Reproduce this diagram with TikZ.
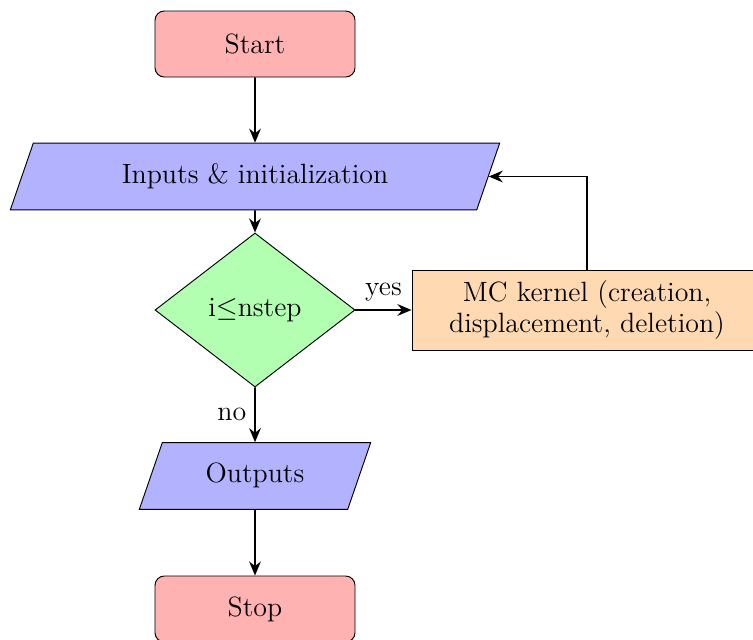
\documentclass[tikz,border=0pt]{standalone}
\usetikzlibrary{shapes.geometric,arrows.meta}
\begin{document}
\begin{tikzpicture}[x=0.015cm,y=-0.015cm,
  font=\fontsize{11.9}{14}\selectfont,
  startstop/.style={rectangle, rounded corners=4pt, draw=black, fill=red!30, minimum width=3cm, minimum height=0.99cm, inner sep=0pt},
  iobox/.style={trapezium, trapezium left angle=71, trapezium right angle=109, trapezium stretches body, draw=black, fill=blue!30, text height=0.3cm, text depth=0.1cm, inner ysep=0.3cm, inner xsep=0pt},
  decisionbox/.style={diamond, draw=black, fill=green!30, minimum width=3cm, minimum height=2.31cm, inner sep=0pt},
  processbox/.style={rectangle, draw=black, fill=orange!30, minimum width=5.25cm, minimum height=1.2cm, text width=5cm, align=center, inner sep=0pt},
  conn/.style={thick, -{Stealth[length=6pt,width=5pt,inset=2pt]}}]
\useasboundingbox (0,0) rectangle (753,639);
\node[startstop] (start) at (255,44) {Start};
\node[iobox, minimum width=7.34cm] (in) at (255,176.5) {Inputs \& initialization};
\node[decisionbox] (dec) at (255,310) {i$\leq$nstep};
\node[processbox] (mc) at (587,310) {MC kernel (creation,\\[-1pt] displacement, deletion)};
\node[iobox, minimum width=3.47cm] (out) at (255,476) {Outputs};
\node[startstop] (stop) at (255,609) {Stop};
\coordinate (corner) at (mc.north |- in.east);
\draw[conn] (start) -- (in);
\draw[conn] (in) -- (dec);
\draw[conn] (dec) -- node[above] {yes} (mc);
\draw[conn] (dec) -- node[left] {no} (out);
\draw[conn] (mc.north) -- (corner) -- (in.east);
\draw[conn] (out) -- (stop);
\end{tikzpicture}
\end{document}
